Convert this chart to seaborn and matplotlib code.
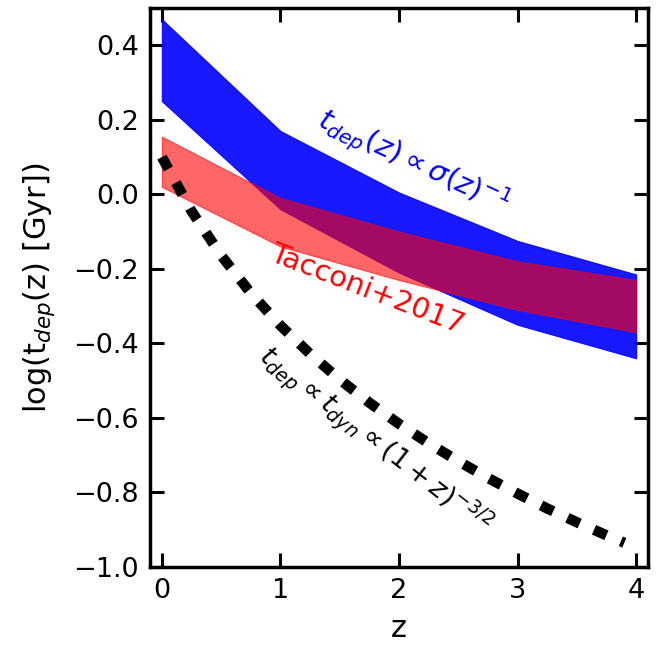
import numpy as np
import pandas as pd
import matplotlib
matplotlib.use("Agg")
import matplotlib.pyplot as plt
import seaborn as sns

# Data
z_band = [0, 1, 2, 3, 4]
blue_upper = [0.47, 0.17, 0.005, -0.125, -0.215]
blue_lower = [0.25, -0.04, -0.21, -0.35, -0.44]
red_upper = [0.155, -0.01, -0.10, -0.18, -0.23]
red_lower = [0.02, -0.14, -0.23, -0.31, -0.37]

z_line = [0, 0.25, 0.5, 0.75, 1.0, 1.25, 1.5, 1.75, 2.0, 2.25, 2.5, 2.75, 3.0, 3.25, 3.5, 3.75, 3.9]
tdyn_line = [0.10, -0.045, -0.164, -0.265, -0.352, -0.428, -0.497, -0.559, -0.616,
             -0.668, -0.716, -0.761, -0.803, -0.843, -0.880, -0.915, -0.935]

x_ticks = [0, 1, 2, 3, 4]
y_ticks = [-1.0, -0.8, -0.6, -0.4, -0.2, 0.0, 0.2, 0.4]

sns.set_style("ticks", {"axes.edgecolor": "black", "xtick.color": "black",
                        "ytick.color": "black", "text.color": "black",
                        "axes.labelcolor": "black"})
plt.rcParams['font.family'] = ['DejaVu Sans']
plt.rcParams['mathtext.fontset'] = 'dejavusans'

fig = plt.figure(figsize=(6.71, 6.50), dpi=100)
ax = fig.add_axes([150/671, 1 - 567/650, (648-150)/671, (567-8)/650])

ax.fill_between(z_band, blue_lower, blue_upper, color='blue', alpha=0.9, linewidth=0.8)
ax.fill_between(z_band, red_lower, red_upper, color='red', alpha=0.6, linewidth=0.8)

df = pd.DataFrame({"z": z_line, "t": tdyn_line})
sns.lineplot(data=df, x="z", y="t", ax=ax, color='black', linewidth=7.5)
ax.lines[-1].set_dashes((1.3, 1.5))
ax.lines[-1].set_dash_capstyle('butt')

ax.set_xlim(-0.1, 4.1)
ax.set_ylim(-1.0, 0.5)
ax.set_xticks(x_ticks)
ax.set_yticks(y_ticks)
ax.set_xticklabels([str(v) for v in x_ticks])
ax.set_yticklabels([("\u2212" if v < 0 else "") + f"{abs(v):.1f}" for v in y_ticks])

ax.tick_params(direction='in', length=10, width=2.2, top=True, right=True,
               labelsize=19.5, pad=8, colors='black')
for s in ax.spines.values():
    s.set_linewidth(2.5)
    s.set_visible(True)
    s.set_color('black')

ax.set_xlabel("z", fontsize=22, labelpad=7, color='black')
ax.set_ylabel(r"log(t$_{dep}$(z) [Gyr])", fontsize=22, labelpad=12, color='black')

ax.text(2.12, 0.085, r"$t_{dep}(z) \propto \sigma(z)^{-1}$", color='blue', fontsize=21,
        rotation=-25, ha='center', va='center', rotation_mode='anchor')
ax.text(1.73, -0.255, "Tacconi+2017", color='red', fontsize=21,
        rotation=-21, ha='center', va='center', rotation_mode='anchor')
ax.text(1.8, -0.66, r"$t_{dep} \propto t_{dyn} \propto (1+z)^{-3/2}$", color='black', fontsize=19.5,
        rotation=-38, ha='center', va='center', rotation_mode='anchor')

fig.savefig("out.png", dpi=100)
